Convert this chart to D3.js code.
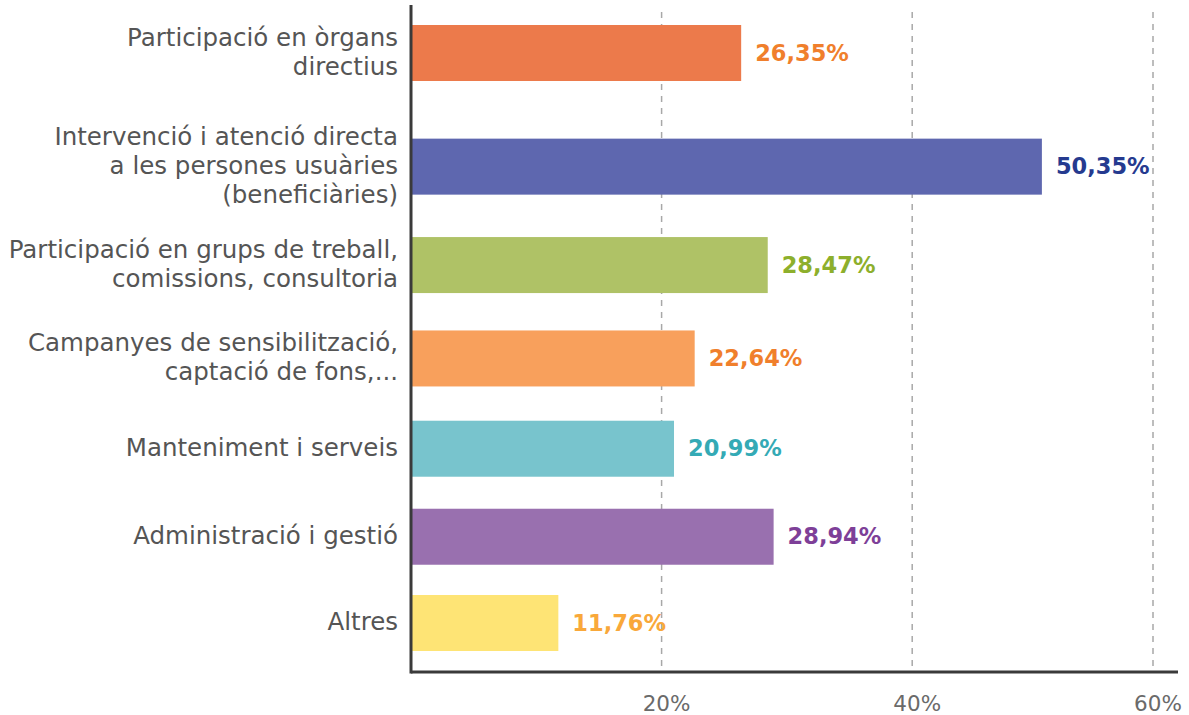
<!DOCTYPE html>
<html>
<head>
<meta charset="utf-8">
<script src="https://cdn.jsdelivr.net/npm/d3@7"></script>
<style>
  body { margin: 0; background: #fff; }
  svg { display: block; }
</style>
</head>
<body>
<div id="root"></div>
<script>
// data
const categories = [
  ['Participació en òrgans', 'directius'],
  ['Intervenció i atenció directa', 'a les persones usuàries', '(beneficiàries)'],
  ['Participació en grups de treball,', 'comissions, consultoria'],
  ['Campanyes de sensibilització,', 'captació de fons,...'],
  ['Manteniment i serveis'],
  ['Administració i gestió'],
  ['Altres']
];
const values = [26.35, 50.35, 28.47, 22.64, 20.99, 28.94, 11.76];
const valueLabels = ['26,35%', '50,35%', '28,47%', '22,64%', '20,99%', '28,94%', '11,76%'];
const tickValues = [20, 40, 60];
const tickLabels = ['20%', '40%', '60%'];

const barColors = ['#EC7A4B', '#5E67AF', '#AFC266', '#F8A05C', '#78C4CD', '#9970AF', '#FEE475'];
const textColors = ['#F07F2C', '#253A8F', '#8DAF2C', '#F07F2C', '#34AAB5', '#7E3F98', '#F9A83A'];

//-----------------------------------------------------------------------
const W = 1189, H = 715;
const left = 411, axisY = 672;
const barH = 56;

const svg = d3.select('#root')
  .append('svg')
  .attr('width', W)
  .attr('height', H);

const x = d3.scaleLinear()
  .domain([0, 60])
  .range([left, left + 60 * 12.53]);

// rows get a bit tighter towards the bottom in the original
const y = d3.scalePow()
  .exponent(0.9)
  .domain([0, values.length - 1])
  .range([53, 623]);

// last gridline is pulled in a little, like in the source picture
const gx = (t) => Math.min(x(t), W - 36);

// gridlines
svg.append('g')
  .selectAll('line')
  .data(tickValues)
  .enter()
  .append('line')
  .attr('x1', gx)
  .attr('x2', gx)
  .attr('y1', 12)
  .attr('y2', axisY)
  .attr('stroke', '#a8a8a8')
  .attr('stroke-width', 1.5)
  .attr('stroke-dasharray', '6,6');

// tick labels
svg.append('g')
  .selectAll('text')
  .data(tickValues)
  .enter()
  .append('text')
  .attr('x', (d) => gx(d) + 5)
  .attr('y', 705)
  .attr('text-anchor', 'middle')
  .attr('dominant-baseline', 'middle')
  .style('font-family', '"DejaVu Sans", sans-serif')
  .style('font-size', '21.5px')
  .style('fill', '#6a6a6a')
  .text((d, i) => tickLabels[i]);

// bars
svg.append('g')
  .selectAll('rect')
  .data(values)
  .enter()
  .append('rect')
  .attr('x', x(0))
  .attr('y', (d, i) => y(i) - barH / 2)
  .attr('width', (d) => x(d) - x(0))
  .attr('height', barH)
  .attr('fill', (d, i) => barColors[i]);

// value labels
svg.append('g')
  .selectAll('text')
  .data(values)
  .enter()
  .append('text')
  .attr('x', (d) => x(d) + 14)
  .attr('y', (d, i) => y(i) + 1)
  .attr('dominant-baseline', 'middle')
  .style('font-family', '"DejaVu Sans", sans-serif')
  .style('font-weight', 'bold')
  .style('font-size', '22.5px')
  .style('fill', (d, i) => textColors[i])
  .text((d, i) => valueLabels[i]);

// category labels
const lineH = 29;
const catG = svg.append('g')
  .selectAll('text')
  .data(categories)
  .enter()
  .append('text')
  .attr('text-anchor', 'end')
  .style('font-family', '"DejaVu Sans", sans-serif')
  .style('font-size', '24.5px')
  .style('fill', '#555');

catG.each(function (lines, i) {
  const t = d3.select(this);
  const top = y(i) - (lines.length - 1) * lineH / 2;
  lines.forEach((l, j) => {
    t.append('tspan')
      .attr('x', left - 13)
      .attr('y', top + j * lineH)
      .attr('dominant-baseline', 'middle')
      .text(l);
  });
});

// axis lines
svg.append('line')
  .attr('x1', left)
  .attr('x2', left)
  .attr('y1', 5)
  .attr('y2', axisY + 1.5)
  .attr('stroke', '#3a3a3a')
  .attr('stroke-width', 3);

svg.append('line')
  .attr('x1', left)
  .attr('x2', 1178)
  .attr('y1', axisY)
  .attr('y2', axisY)
  .attr('stroke', '#3a3a3a')
  .attr('stroke-width', 3);
</script>
</body>
</html>
